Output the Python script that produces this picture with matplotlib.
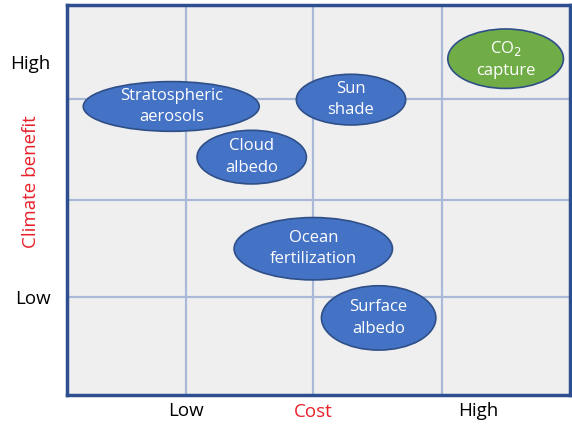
import matplotlib.pyplot as plt
from matplotlib.patches import Ellipse

plt.rcParams['font.family'] = ['Open Sans', 'DejaVu Sans']

# options placed on the cost / climate-benefit plane (axes run 0..4)
labels = ["Stratospheric\naerosols", "Cloud\nalbedo", "Sun\nshade",
          "CO$_2$\ncapture", "Ocean\nfertilization", "Surface\nalbedo"]
cost = [0.83, 1.47, 2.26, 3.49, 1.96, 2.48]
benefit = [2.96, 2.44, 3.03, 3.45, 1.50, 0.79]
spread_cost = [1.40, 0.87, 0.87, 0.92, 1.26, 0.91]
spread_benefit = [0.51, 0.55, 0.52, 0.61, 0.64, 0.66]
fills = ["#4472c4", "#4472c4", "#4472c4", "#70ad47", "#4472c4", "#4472c4"]

grid_x = [0.95, 1.96, 2.98]
grid_y = [1.0, 2.0, 3.04]
xtick_pos = [0.95, 3.27]
xtick_labels = ["Low", "High"]
ytick_pos = [1.0, 3.42]
ytick_labels = ["Low", "High"]

fig = plt.figure(figsize=(5.72, 4.26), dpi=100)
ax = fig.add_axes([0.117, 0.073, 0.879, 0.915])
ax.set_facecolor("#efefef")
ax.set_xlim(0, 4)
ax.set_ylim(0, 4)

for gx in grid_x:
    ax.axvline(gx, color="#aab9d8", lw=1.6, zorder=1)
for gy in grid_y:
    ax.axhline(gy, color="#aab9d8", lw=1.6, zorder=1)

for lab, x, y, w, h, c in zip(labels, cost, benefit, spread_cost, spread_benefit, fills):
    ax.add_patch(Ellipse((x, y), w, h, facecolor=c, edgecolor="#2f4f88",
                         lw=1.2, zorder=3))
    ax.text(x, y, lab, ha="center", va="center", color="white",
            fontsize=12, linespacing=1.45, zorder=4)

for s in ax.spines.values():
    s.set_color("#2e4f8f")
    s.set_linewidth(2.5)

ax.set_xticks(xtick_pos, xtick_labels, fontsize=13.5)
ax.set_yticks(ytick_pos, ytick_labels, fontsize=13.5)
ax.tick_params(axis="x", length=0, pad=5)
ax.tick_params(axis="y", length=0, pad=12)

fig.text(313 / 572, 1 - 412 / 426, "Cost", color="#e8202a", fontsize=13.5,
         ha="center", va="center")
fig.text(31 / 572, 1 - 182 / 426, "Climate benefit", color="#e8202a",
         fontsize=13.5, rotation=90, ha="center", va="center")

fig.savefig("out.png", dpi=100)
